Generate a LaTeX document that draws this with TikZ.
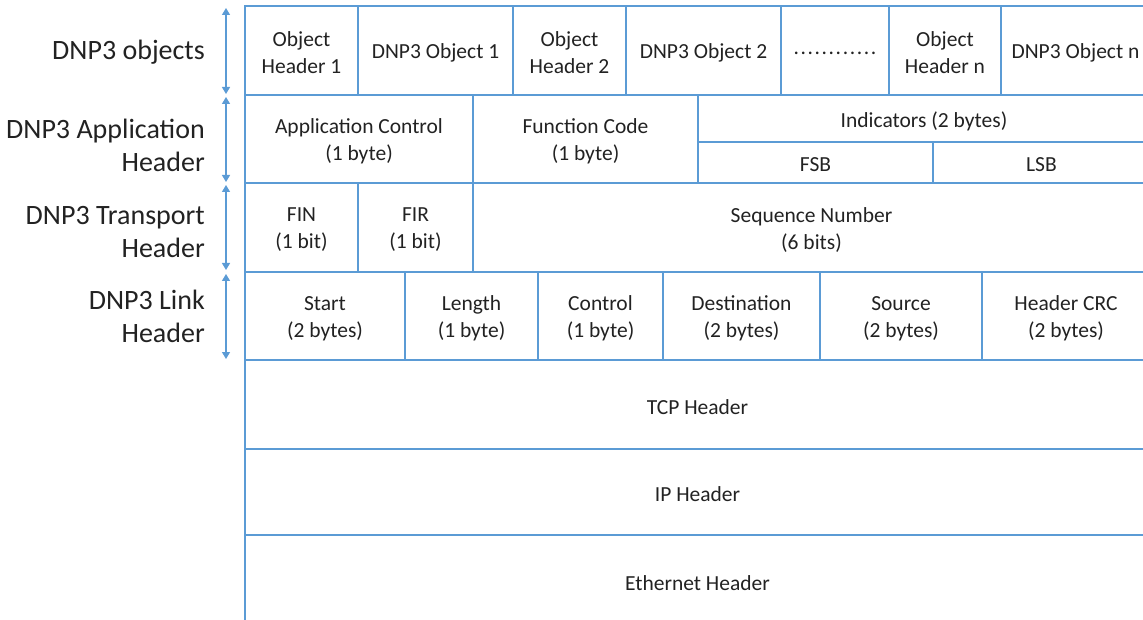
\documentclass[tikz,border=0pt]{standalone}
\usepackage{fontspec}
\setmainfont{Carlito}
\usetikzlibrary{arrows.meta}
\definecolor{frameblue}{RGB}{91,155,213}
\definecolor{inktext}{RGB}{34,34,34}

% one field of the frame: name, left, top, right, bottom, text
\newcommand\fieldcell[6]{%
  \draw[frame] (#2,#3) rectangle (#4,#5);
  \node[celltext] (#1) at ({(#2+#4)/2},{(#3+#5)/2+2.5}) {#6};}

\begin{document}
\begin{tikzpicture}[x=1pt, y=-1pt,
  frame/.style={draw=frameblue, line width=1.7pt},
  celltext/.style={inner sep=0pt, align=center, text=inktext,
    font=\fontsize{21.5}{27}\selectfont},
  layer/.style={anchor=east, align=right, text=inktext, inner sep=0pt,
    font=\fontsize{28}{33}\selectfont},
  span/.style={draw=frameblue, line width=1.2pt,
    {Triangle[width=8pt,length=7pt]}-{Triangle[width=8pt,length=7pt]}}]

\clip (0,0) rectangle (1143,620);

% DNP3 objects
\fieldcell{oh1}{245}{6}{358}{95}{Object\\Header 1}
\fieldcell{obj1}{358}{6}{513}{95}{DNP3 Object 1}
\fieldcell{oh2}{513}{6}{626}{95}{Object\\Header 2}
\fieldcell{obj2}{626}{6}{781}{95}{DNP3 Object 2}
\fieldcell{more}{781}{6}{889}{95}{\foreach \k in {1,...,11}{.\kern1.6pt}.}
\fieldcell{ohn}{889}{6}{1001}{95}{Object\\Header n}
\fieldcell{objn}{1001}{6}{1150}{95}{DNP3 Object n}

% application header
\fieldcell{appctl}{245}{95}{473}{183}{Application Control\\(1 byte)}
\fieldcell{fcode}{473}{95}{698}{183}{Function Code\\(1 byte)}
\fieldcell{ind}{698}{95}{1150}{142}{Indicators (2 bytes)}
\fieldcell{fsb}{698}{142}{933}{183}{FSB}
\fieldcell{lsb}{933}{142}{1150}{183}{LSB}

% transport header
\fieldcell{fin}{245}{183}{358}{272}{FIN\\(1 bit)}
\fieldcell{fir}{358}{183}{473}{272}{FIR\\(1 bit)}
\fieldcell{seq}{473}{183}{1150}{272}{Sequence Number\\(6 bits)}

% link header
\fieldcell{start}{245}{272}{405}{360}{Start\\(2 bytes)}
\fieldcell{len}{405}{272}{538}{360}{Length\\(1 byte)}
\fieldcell{ctl}{538}{272}{663}{360}{Control\\(1 byte)}
\fieldcell{dst}{663}{272}{820}{360}{Destination\\(2 bytes)}
\fieldcell{src}{820}{272}{982}{360}{Source\\(2 bytes)}
\fieldcell{crc}{982}{272}{1150}{360}{Header CRC\\(2 bytes)}

% lower layers
\fieldcell{tcp}{245}{360}{1150}{449}{TCP Header}
\fieldcell{ip}{245}{449}{1150}{535}{IP Header}
\fieldcell{eth}{245}{535}{1150}{626}{Ethernet Header}

% layer names
\node[layer] (lobj) at (205,52) {DNP3 objects};
\node[layer] (lapp) at (205,145) {DNP3 Application\\Header};
\node[layer] (ltrn) at (205,232) {DNP3 Transport\\Header};
\node[layer] (llnk) at (205,316) {DNP3 Link\\Header};

% extent of each layer
\coordinate (s1a) at (226,8);   \coordinate (s1b) at (226,94);
\coordinate (s2a) at (226,97);  \coordinate (s2b) at (226,182);
\coordinate (s3a) at (226,185); \coordinate (s3b) at (226,270);
\coordinate (s4a) at (226,274); \coordinate (s4b) at (226,359);
\draw[span] (s1a) -- (s1b);
\draw[span] (s2a) -- (s2b);
\draw[span] (s3a) -- (s3b);
\draw[span] (s4a) -- (s4b);
\end{tikzpicture}
\end{document}
